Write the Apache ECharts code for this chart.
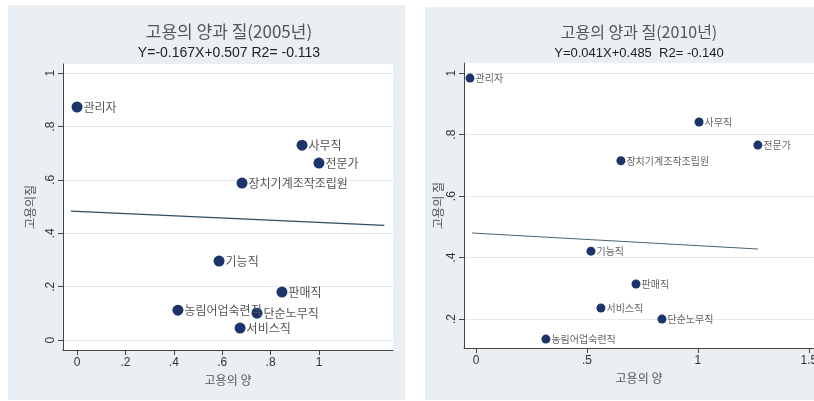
<!DOCTYPE html>
<html>
<head>
<meta charset="utf-8">
<script src="https://cdn.jsdelivr.net/npm/echarts@6/dist/echarts.min.js"></script>
<style>
  html, body { margin: 0; padding: 0; background: #fff; }
  body { width: 814px; height: 401px; position: relative; overflow: hidden; }
  .panel { position: absolute; background: #e9eff2; }
  #chart2005 { left: 8px; top: 5px; width: 397px; height: 395px; }
  #chart2010 { left: 425px; top: 7px; width: 389px; height: 393px; }
</style>
</head>
<body>
<div id="chart2005" class="panel"></div>
<div id="chart2010" class="panel"></div>
<script>
// occupation names
const jobs2005 = ['관리자', '사무직', '전문가', '장치기계조작조립원', '기능직', '판매직', '농림어업숙련직', '단순노무직', '서비스직']
const jobs2010 = ['관리자', '사무직', '전문가', '장치기계조작조립원', '기능직', '판매직', '서비스직', '단순노무직', '농림어업숙련직']

// x = 고용의 양, y = 고용의 질
const qty2005 = [0, 0.93, 1.0, 0.682, 0.587, 0.847, 0.417, 0.744, 0.674]
const qual2005 = [0.873, 0.73, 0.663, 0.588, 0.296, 0.18, 0.112, 0.101, 0.045]
const qty2010 = [-0.027, 1.005, 1.27, 0.653, 0.518, 0.721, 0.563, 0.838, 0.315]
const qual2010 = [0.984, 0.841, 0.766, 0.715, 0.421, 0.314, 0.236, 0.2, 0.135]

// fitted line end points
const fitX2005 = [-0.025, 1.27]
const fitY2005 = [0.483, 0.43]
const fitX2010 = [-0.018, 1.27]
const fitY2010 = [0.48, 0.428]

// ticks
const xTicks2005 = [0, 0.2, 0.4, 0.6, 0.8, 1]
const yTicks2005 = [0, 0.2, 0.4, 0.6, 0.8, 1]
const xTicks2010 = [0, 0.5, 1, 1.5]
const yTicks2010 = [0.2, 0.4, 0.6, 0.8, 1]

const KFONT = '"Noto Sans CJK KR", "Noto Sans", sans-serif'
const NFONT = '"Liberation Sans", Arial, sans-serif'

function tickText(v) {
  // stata style: .2 instead of 0.2
  const s = String(Math.round(v * 100) / 100)
  return s.startsWith('0.') ? s.slice(1) : s
}

function buildOption(cfg) {
  const points = cfg.names.map((n, i) => ({ name: n, value: [cfg.x[i], cfg.y[i]] }))
  const fit = cfg.fitX.map((v, i) => [v, cfg.fitY[i]])
  return {
    animation: false,
    grid: {
      left: cfg.grid.left,
      top: cfg.grid.top,
      width: cfg.grid.width,
      height: cfg.grid.height,
      outerBoundsMode: 'none',
      show: true,
      backgroundColor: '#ffffff',
      borderWidth: 0,
    },
    graphic: [
      {
        type: 'text',
        x: cfg.titleX,
        y: cfg.titleY,
        style: {
          text: cfg.title,
          fill: '#555',
          font: cfg.titleFont,
          textAlign: 'center',
          textVerticalAlign: 'middle',
        },
      },
      {
        type: 'text',
        x: cfg.titleX,
        y: cfg.subY,
        style: {
          text: cfg.subtitle,
          fill: '#222',
          font: cfg.subFont,
          textAlign: 'center',
          textVerticalAlign: 'middle',
        },
      },
    ],
    xAxis: {
      type: 'value',
      min: cfg.xMin,
      max: cfg.xMax,
      name: '고용의 양',
      nameLocation: 'middle',
      nameGap: cfg.xNameGap,
      nameMoveOverlap: false,
      nameTextStyle: { color: '#555', fontSize: 12, fontFamily: KFONT },
      axisLine: { show: true, onZero: false, lineStyle: { color: '#444', width: 1 } },
      axisTick: { show: true, length: 5, customValues: cfg.xTicks, lineStyle: { color: '#444' } },
      axisLabel: {
        customValues: cfg.xTicks,
        formatter: tickText,
        color: '#333',
        fontSize: 12,
        fontFamily: NFONT,
        margin: 7,
        hideOverlap: false,
      },
      splitLine: { show: false },
    },
    yAxis: {
      type: 'value',
      min: cfg.yMin,
      max: cfg.yMax,
      name: cfg.yName,
      nameLocation: 'middle',
      nameGap: cfg.yNameGap,
      nameMoveOverlap: false,
      nameTextStyle: { color: '#555', fontSize: 12, fontFamily: KFONT },
      axisLine: { show: true, onZero: false, lineStyle: { color: '#444', width: 1 } },
      axisTick: { show: true, length: 5, customValues: cfg.yTicks, lineStyle: { color: '#444' } },
      axisLabel: {
        customValues: cfg.yTicks,
        formatter: tickText,
        rotate: 90,
        color: '#333',
        fontSize: 12,
        fontFamily: NFONT,
        margin: 6,
      },
      splitLine: { show: true, lineStyle: { color: '#e4eaee', width: 1 } },
    },
    series: [
      {
        type: 'line',
        data: fit,
        symbol: 'none',
        lineStyle: { color: cfg.lineColor, width: 1.2 },
        z: 2,
      },
      {
        type: 'scatter',
        data: points,
        symbolSize: cfg.dotSize,
        itemStyle: { color: '#1b356a', opacity: 1 },
        label: {
          show: true,
          position: 'right',
          distance: 1,
          formatter: '{b}',
          color: cfg.labelColor,
          fontSize: cfg.labelSize,
          fontFamily: KFONT,
        },
        z: 3,
      },
    ],
  }
}

const chartA = echarts.init(document.getElementById('chart2005'))
chartA.setOption(buildOption({
  names: jobs2005,
  x: qty2005,
  y: qual2005,
  fitX: fitX2005,
  fitY: fitY2005,
  xTicks: xTicks2005,
  yTicks: yTicks2005,
  xMin: -0.058,
  xMax: 1.306,
  yMin: -0.037,
  yMax: 1.034,
  grid: { left: 55, top: 59, width: 330, height: 286 },
  title: '고용의 양과 질(2005년)',
  subtitle: 'Y=-0.167X+0.507 R2= -0.113',
  titleX: 221,
  titleY: 27,
  subY: 48,
  titleFont: '17px ' + KFONT,
  subFont: '14px ' + NFONT,
  yName: '고용의질',
  yNameGap: 27,
  xNameGap: 24,
  lineColor: '#2f4b5c',
  dotSize: 11,
  labelColor: '#555',
  labelSize: 12,
}))

const chartB = echarts.init(document.getElementById('chart2010'))
chartB.setOption(buildOption({
  names: jobs2010,
  x: qty2010,
  y: qual2010,
  fitX: fitX2010,
  fitY: fitY2010,
  xTicks: xTicks2010,
  yTicks: yTicks2010,
  xMin: -0.054,
  xMax: 1.523,
  yMin: 0.106,
  yMax: 1.033,
  grid: { left: 39, top: 56, width: 350, height: 285 },
  title: '고용의 양과 질(2010년)',
  subtitle: 'Y=0.041X+0.485  R2= -0.140',
  titleX: 214,
  titleY: 25,
  subY: 46,
  titleFont: '16px ' + KFONT,
  subFont: '13px ' + NFONT,
  yName: '고용의 질',
  yNameGap: 20,
  xNameGap: 24,
  lineColor: '#4a6373',
  dotSize: 9,
  labelColor: '#666',
  labelSize: 10,
}))
</script>
</body>
</html>
